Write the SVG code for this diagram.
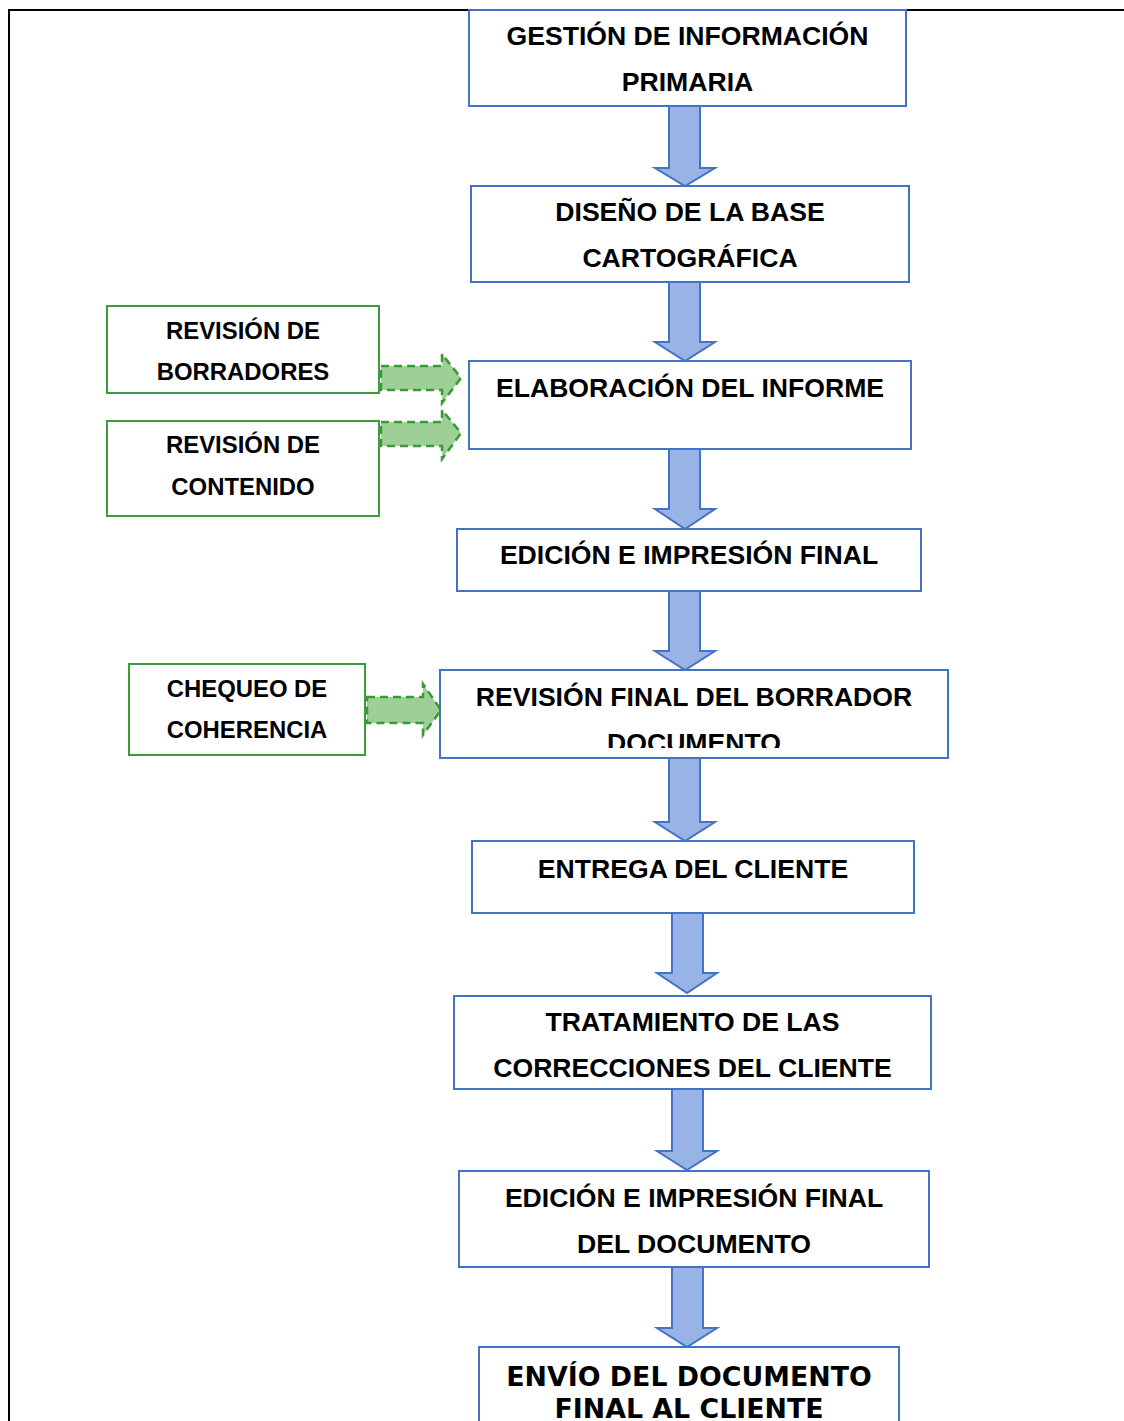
<svg xmlns="http://www.w3.org/2000/svg" width="1124" height="1421" viewBox="0 0 1124 1421">
<style>
.bg{fill:#ffffff}
.frame{fill:none;stroke:#000000;stroke-width:2}
.box{fill:#ffffff;stroke:#4472C4;stroke-width:2}
.gbox{fill:#ffffff;stroke:#3D9C3A;stroke-width:2}
.t{font-family:"Liberation Sans",Arial,sans-serif;font-weight:bold;font-size:26.6px;fill:#000000;text-anchor:middle}
.tg{font-family:"Liberation Sans",Arial,sans-serif;font-weight:bold;font-size:23.9px;fill:#000000;text-anchor:middle}
.tv{font-family:"DejaVu Sans",Verdana,sans-serif;font-weight:bold;font-size:26.8px;fill:#000000;text-anchor:middle}
.down{fill:#98B3E5;stroke:#4472C4;stroke-width:2;stroke-linejoin:miter}
.right{fill:#9DCF96;stroke:#3A9A35;stroke-width:2.5;stroke-dasharray:8 5}
</style>
<defs>
<clipPath id="clip5"><rect x="440" y="670" width="508" height="78"/></clipPath>
</defs>
<rect class="bg" x="0" y="0" width="1124" height="1421"/>
<g id="frame">
<path class="frame" d="M9,1421 V10 H1124"/>
</g>
<g id="connectors">
<path class="down" d="M669,106 H700 V168 H715 L685,186 L655,168 H669 Z"/>
<path class="down" d="M669,282 H700 V342 H715 L685,361 L655,342 H669 Z"/>
<path class="down" d="M669,449 H700 V509 H715 L685,529 L655,509 H669 Z"/>
<path class="down" d="M669,591 H700 V651 H715 L685,670 L655,651 H669 Z"/>
<path class="down" d="M669,758 H700 V822 H715 L685,841 L655,822 H669 Z"/>
<path class="down" d="M672,913 H703 V973 H717 L687,993 L657,973 H672 Z"/>
<path class="down" d="M672,1089 H703 V1151 H717 L687,1170 L657,1151 H672 Z"/>
<path class="down" d="M672,1267 H703 V1328 H717 L687,1347 L657,1328 H672 Z"/>
<path class="right" d="M381,366 H442 V354 L461,378 L442,403 V390 H381 Z"/>
<path class="right" d="M381,422 H442 V410 L461,433 L442,459 V446 H381 Z"/>
<path class="right" d="M367,697 H423 V684 L441,710 L423,735 V723 H367 Z"/>
</g>
<g id="n1">
<rect class="box" x="469" y="10" width="437" height="96"/>
<text class="t" x="687.5" y="45">GESTIÓN DE INFORMACIÓN</text>
<text class="t" x="687.5" y="91">PRIMARIA</text>
</g>
<g id="n2">
<rect class="box" x="471" y="186" width="438" height="96"/>
<text class="t" x="690" y="221">DISEÑO DE LA BASE</text>
<text class="t" x="690" y="267">CARTOGRÁFICA</text>
</g>
<g id="n3">
<rect class="box" x="469" y="361" width="442" height="88"/>
<text class="t" x="690" y="397">ELABORACIÓN DEL INFORME</text>
</g>
<g id="n4">
<rect class="box" x="457" y="529" width="464" height="62"/>
<text class="t" x="689" y="564">EDICIÓN E IMPRESIÓN FINAL</text>
</g>
<g id="n5">
<rect class="box" x="440" y="670" width="508" height="88"/>
<g clip-path="url(#clip5)">
<text class="t" x="694" y="706">REVISIÓN FINAL DEL BORRADOR</text>
<text class="t" x="694" y="752">DOCUMENTO</text>
</g>
</g>
<g id="n6">
<rect class="box" x="472" y="841" width="442" height="72"/>
<text class="t" x="693" y="878">ENTREGA DEL CLIENTE</text>
</g>
<g id="n7">
<rect class="box" x="454" y="996" width="477" height="93"/>
<text class="t" x="692.5" y="1031">TRATAMIENTO DE LAS</text>
<text class="t" x="692.5" y="1077">CORRECCIONES DEL CLIENTE</text>
</g>
<g id="n8">
<rect class="box" x="459" y="1171" width="470" height="96"/>
<text class="t" x="694" y="1207">EDICIÓN E IMPRESIÓN FINAL</text>
<text class="t" x="694" y="1253">DEL DOCUMENTO</text>
</g>
<g id="n9">
<rect class="box" x="479" y="1347" width="420" height="90"/>
<text class="tv" x="689" y="1386">ENVÍO DEL DOCUMENTO</text>
<text class="tv" x="689" y="1418">FINAL AL CLIENTE</text>
</g>
<g id="g1">
<rect class="gbox" x="107" y="306" width="272" height="87"/>
<text class="tg" x="243" y="339">REVISIÓN DE</text>
<text class="tg" x="243" y="380">BORRADORES</text>
</g>
<g id="g2">
<rect class="gbox" x="107" y="421" width="272" height="95"/>
<text class="tg" x="243" y="453">REVISIÓN DE</text>
<text class="tg" x="243" y="495">CONTENIDO</text>
</g>
<g id="g3">
<rect class="gbox" x="129" y="664" width="236" height="91"/>
<text class="tg" x="247" y="697">CHEQUEO DE</text>
<text class="tg" x="247" y="738">COHERENCIA</text>
</g>
</svg>
